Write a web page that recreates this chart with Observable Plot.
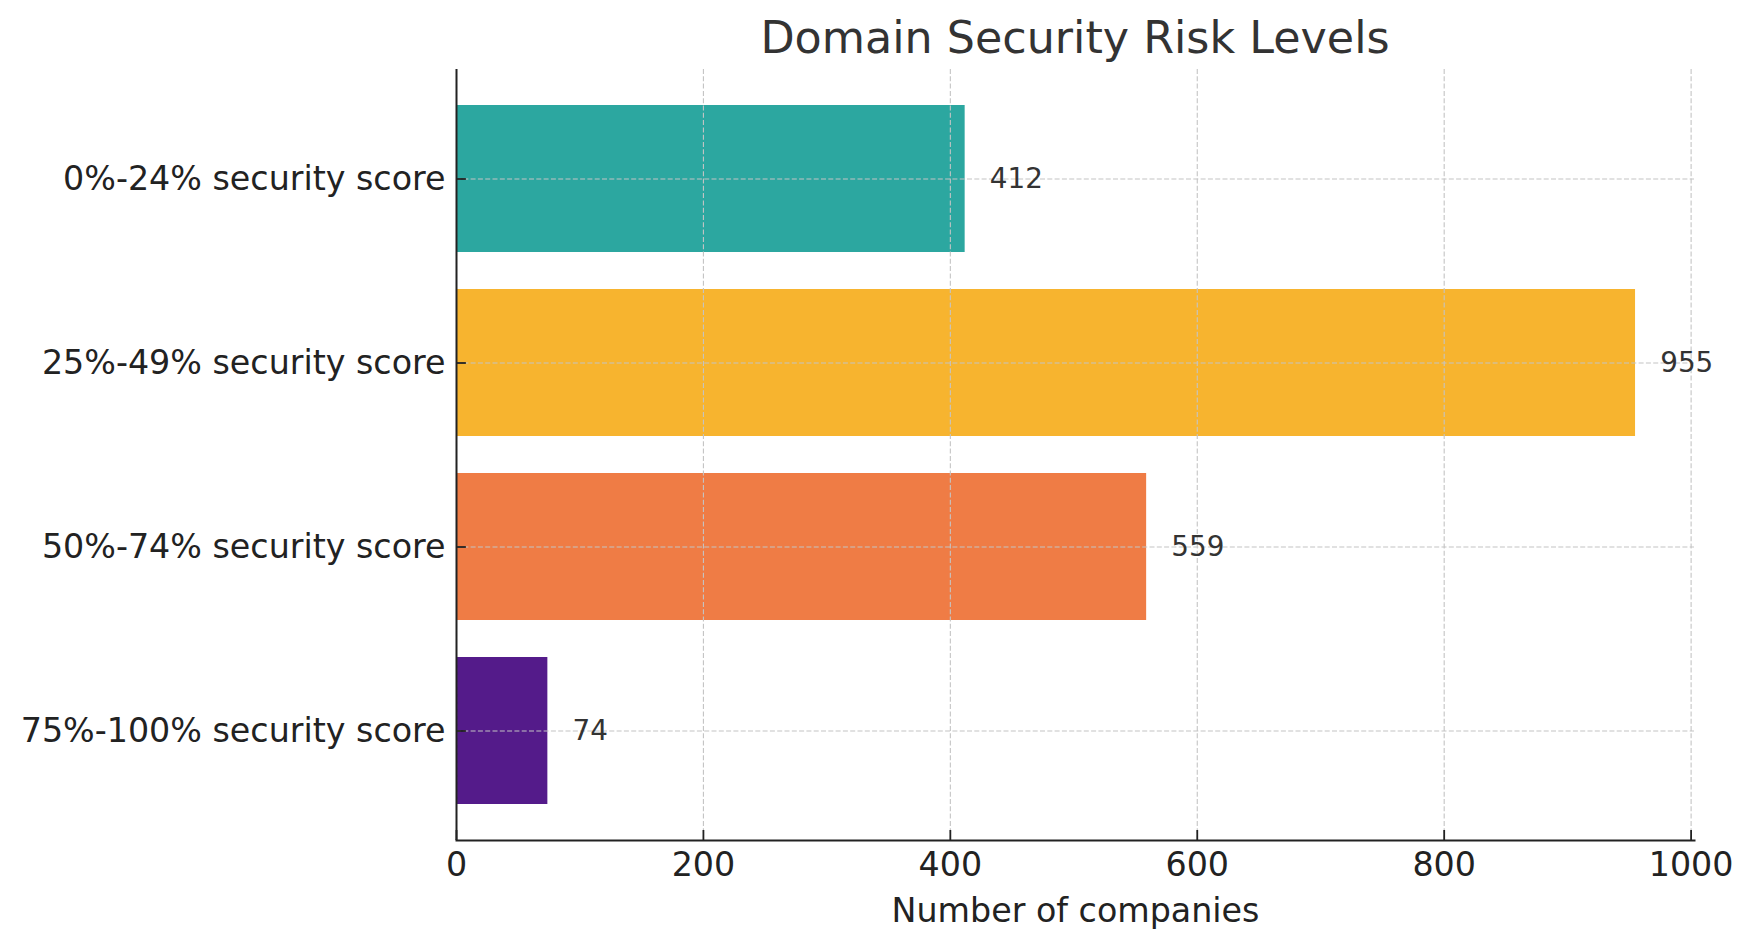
<!DOCTYPE html>
<html>
<head>
<meta charset="utf-8">
<script src="https://cdn.jsdelivr.net/npm/d3@7"></script>
<script src="https://cdn.jsdelivr.net/npm/@observablehq/plot@0.6"></script>
<style>
  html, body { margin: 0; padding: 0; background: #fff; }
  #wrap { width: 1754px; height: 947px; position: relative; overflow: hidden; }
  #title { position: relative; width: 1754px; height: 64px; }
  #title span {
    position: absolute; left: 1075px; top: 16.45px; transform: translateX(-50%);
    font-family: "DejaVu Sans"; font-size: 44.4px; line-height: 44.4px; color: #333; white-space: nowrap;
  }
  svg { display: block; }
</style>
</head>
<body>
<div id="wrap">
  <div id="title"><span>Domain Security Risk Levels</span></div>
  <div id="chart"></div>
</div>
<script>
const categories = [
  "0%-24% security score",
  "25%-49% security score",
  "50%-74% security score",
  "75%-100% security score"
];
const values = [412, 955, 559, 74];
const colors = ["#2CA7A0", "#F7B42F", "#EF7C45", "#541B8A"];
const xTicks = [0, 200, 400, 600, 800, 1000];
const xLabel = "Number of companies";

const data = categories.map((c, i) => ({category: c, value: values[i]}));

const W = 1754, H = 883;
const mTop = 5, mBottom = 107, mLeft = 456, mRight = 60;
const frameH = H - mTop - mBottom;
const gridStyle = {stroke: "#c4c4c4", strokeOpacity: 1, strokeWidth: 1.1, strokeDasharray: "5,2.3"};

const plot = Plot.plot({
  width: W,
  height: H,
  marginTop: mTop,
  marginBottom: mBottom,
  marginLeft: mLeft,
  marginRight: mRight,
  style: {fontFamily: "DejaVu Sans", fontSize: "33.3px", color: "#222", background: "#fff"},
  x: {domain: [0, 1002.75]},
  y: {domain: categories, paddingInner: 0.2, paddingOuter: 0.195},
  color: {domain: categories, range: colors},
  marks: [
    Plot.barX(data, {x: "value", y: "category", fill: "category"}),
    Plot.gridX(xTicks, gridStyle),
    Plot.gridY(categories, gridStyle),
    Plot.ruleX([0], {stroke: "#222", strokeWidth: 2}),
    Plot.frame({anchor: "bottom", stroke: "#222", strokeWidth: 2}),
    Plot.ruleY(categories, {y: d => d, x1: 0, x2: 8, stroke: "#222", strokeWidth: 1.8}),
    Plot.tickX(xTicks, {x: d => d, insetTop: frameH - 10, stroke: "#222", strokeWidth: 1.8}),
    Plot.axisX(xTicks, {tickSize: 0, tickPadding: 12, label: null, tickFormat: d => String(d), fontSize: 33.3, fill: "#222"}),
    Plot.axisY({tickSize: 0, tickPadding: 11, label: null, fontSize: 33.3, fill: "#222"}),
    Plot.text([xLabel], {frameAnchor: "bottom", dy: 71, lineAnchor: "middle", text: d => d, fontSize: 33.3, fill: "#222"}),
    Plot.text(data, {x: "value", y: "category", text: d => String(d.value), dx: 24.7, textAnchor: "start", lineAnchor: "middle", fontSize: 27.8, fill: "#333"})
  ]
});
document.getElementById("chart").appendChild(plot);
</script>
</body>
</html>
